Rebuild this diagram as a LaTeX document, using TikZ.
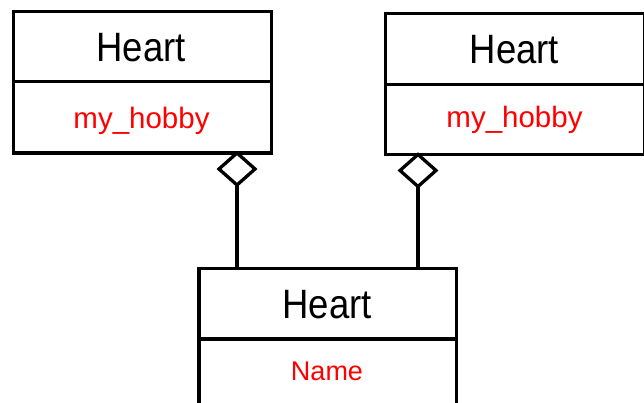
\documentclass[tikz,border=0pt]{standalone}
\usepackage{fontspec}
\setmainfont{Liberation Sans}
\newfontfamily\titlefont[FakeStretch=0.89]{Liberation Sans}
\usetikzlibrary{shapes.geometric}
\begin{document}
\begin{tikzpicture}[x=1pt,y=-1pt,
  box/.style={draw, rectangle, inner sep=0pt, outer sep=0pt, anchor=north west, line width=3.5pt},
  ttl/.style={anchor=base, inner sep=0pt, font=\titlefont\fontsize{41}{41}\selectfont},
  attr/.style={anchor=base, inner sep=0pt, text=red, font=\fontsize{29.5}{30}\selectfont},
  agg/.style={draw, diamond, inner sep=0pt, outer sep=0pt, minimum width=36pt, minimum height=32pt, anchor=north, line width=3.3pt},
  conn/.style={line width=3.3pt}]
\useasboundingbox (0,0) rectangle (644,403);
% left class
\node[box, minimum width=258pt, minimum height=70pt] (Lt) at (13.5,11.5) {};
\node[box, minimum width=258pt, minimum height=71.5pt] (La) at (13.5,81.5) {};
\node[ttl] (LtT) at (141,61.7) {Heart};
\node[attr] (LaT) at (141.5,128.3) {my\_hobby};
% right class
\node[box, minimum width=259pt, minimum height=71pt] (Rt) at (385.5,13.5) {};
\node[box, minimum width=259pt, minimum height=70pt] (Ra) at (385.5,84.5) {};
\node[ttl] (RtT) at (514.5,64) {Heart};
\node[attr] (RaT) at (514.5,127.7) {my\_hobby};
% bottom class
\node[box, minimum width=257.5pt, minimum height=70.7pt] (Bt) at (199,268.3) {};
\node[box, minimum width=257.5pt, minimum height=75pt] (Ba) at (199,339) {};
\node[ttl] (BtT) at (327,318.3) {Heart};
\node[attr, font=\fontsize{27}{28}\selectfont] (BaT) at (327,380) {Name};
% aggregation diamonds
\node[agg] (dL) at (237,153) {};
\node[agg] (dR) at (418,154.5) {};
\draw[conn] (dL.south) -- (dL.south |- Bt.north);
\draw[conn] (dR.south) -- (dR.south |- Bt.north);
\end{tikzpicture}
\end{document}
